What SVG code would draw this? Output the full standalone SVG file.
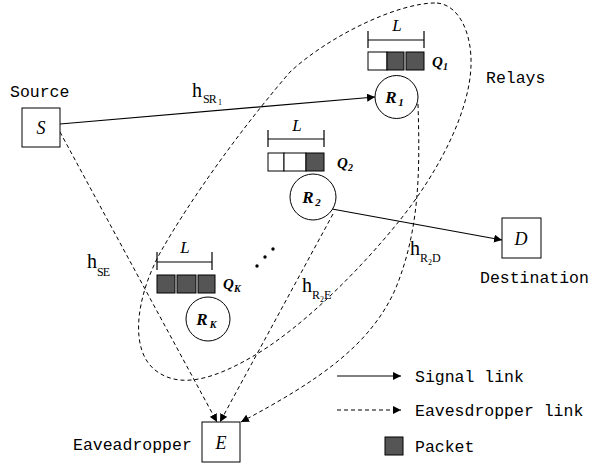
<svg xmlns="http://www.w3.org/2000/svg" width="589" height="463" viewBox="0 0 589 463">
<style>
.lbl{font-family:"Liberation Mono","DejaVu Sans Mono",monospace;font-size:16.5px;fill:#000}
.it{font-family:"Liberation Serif","Times New Roman",serif;font-style:italic;fill:#000}
.bi{font-family:"Liberation Serif","Times New Roman",serif;font-style:italic;font-weight:bold;fill:#000}
.h{font-family:"Liberation Serif","Times New Roman",serif;fill:#000}
.box{fill:#fff;stroke:#000;stroke-width:1}
.sol{fill:none;stroke:#000;stroke-width:1.2}
.dsh{fill:none;stroke:#000;stroke-width:1;stroke-dasharray:4 3}
.pk{fill:#555;stroke:#000;stroke-width:1}
.em{fill:#fff;stroke:#000;stroke-width:1}
</style>
<defs>
<marker id="ah" viewBox="0 0 10 10" refX="10" refY="5" markerWidth="8" markerHeight="8" markerUnits="userSpaceOnUse" orient="auto">
<path d="M0,0 L10,5 L0,10 z" fill="#000"/>
</marker>
</defs>
<rect width="589" height="463" fill="#fff"/>

<g id="relay-region">
<path d="M437,3 C460,5 472,35 471,65 C470,110 440,170 400,220 C360,270 300,330 250,358 C215,378 180,390 155,370 C130,350 135,300 160,253 C190,200 240,130 290,72 C330,35 400,2 437,3 Z" class="dsh"/>
<text x="486" y="83" class="lbl">Relays</text>
</g>

<g id="connectors">
<line x1="60" y1="124" x2="375" y2="97" class="sol" marker-end="url(#ah)"/>
<line x1="332" y1="209" x2="502" y2="240" class="sol" marker-end="url(#ah)"/>
<line x1="60" y1="132" x2="217" y2="422" class="dsh" marker-end="url(#ah)"/>
<line x1="333" y1="214" x2="220" y2="422" class="dsh" marker-end="url(#ah)"/>
<path d="M418,104 C420,170 420,230 395,290 C370,345 320,380 241,422" class="dsh" marker-end="url(#ah)"/>
<text x="192" y="97" class="h" font-size="20">h</text>
<text x="203" y="103" class="h" font-size="12" letter-spacing="-1">SR</text>
<text x="218" y="105" class="h" font-size="8">1</text>
<text x="87" y="268" class="h" font-size="20">h</text>
<text x="97" y="276" class="h" font-size="12" letter-spacing="-1">SE</text>
<text x="302" y="292" class="h" font-size="20">h</text>
<text x="312" y="299" class="h" font-size="12">R</text>
<text x="320" y="302" class="h" font-size="8">2</text>
<text x="324" y="299" class="h" font-size="12">E</text>
<text x="410" y="255" class="h" font-size="20">h</text>
<text x="420" y="262" class="h" font-size="12">R</text>
<text x="428" y="265" class="h" font-size="8">2</text>
<text x="432" y="262" class="h" font-size="12">D</text>
</g>

<g id="S">
<rect x="22" y="108" width="38" height="39" class="box"/>
<text x="41" y="134" class="it" font-size="18" text-anchor="middle">S</text>
<text x="10" y="97" class="lbl">Source</text>
</g>

<g id="D">
<rect x="502" y="218" width="39" height="40" class="box"/>
<text x="521" y="245" class="it" font-size="18" text-anchor="middle">D</text>
<text x="480" y="283" class="lbl">Destination</text>
</g>

<g id="E">
<rect x="202" y="422" width="38" height="40" class="box"/>
<text x="221" y="449" class="it" font-size="18" text-anchor="middle">E</text>
<text x="73" y="450" class="lbl">Eaveadropper</text>
</g>

<g id="R1">
<circle cx="396.5" cy="97" r="21.5" class="box"/>
<text x="391" y="103" class="bi" font-size="17" text-anchor="middle">R</text>
<text x="401" y="106" class="bi" font-size="11" text-anchor="middle">1</text>
<path d="M368,40 H424 M368,31 V48 M424,31 V48" class="sol" stroke-width="1"/>
<text x="397" y="31" class="it" font-size="17" text-anchor="middle">L</text>
<rect x="368" y="52" width="19" height="18" class="em"/>
<rect x="387" y="52" width="17" height="18" class="pk"/>
<rect x="406" y="52" width="18" height="18" class="pk"/>
<text x="432" y="67" class="bi" font-size="15">Q</text>
<text x="443" y="70" class="bi" font-size="10">1</text>
</g>

<g id="R2">
<circle cx="313" cy="197" r="23" class="box"/>
<text x="308" y="203" class="bi" font-size="17" text-anchor="middle">R</text>
<text x="318" y="206" class="bi" font-size="11" text-anchor="middle">2</text>
<path d="M268,139 H324 M268,130 V147 M324,130 V147" class="sol" stroke-width="1"/>
<text x="297" y="131" class="it" font-size="17" text-anchor="middle">L</text>
<rect x="268" y="153" width="16" height="18" class="em"/>
<rect x="284" y="153" width="22" height="18" class="em"/>
<rect x="306" y="153" width="18" height="18" class="pk"/>
<text x="337" y="168" class="bi" font-size="15">Q</text>
<text x="348" y="171" class="bi" font-size="10">2</text>
</g>

<g id="RK">
<circle cx="208" cy="319" r="22" class="box"/>
<text x="202" y="325" class="bi" font-size="17" text-anchor="middle">R</text>
<text x="213" y="328" class="bi" font-size="10" text-anchor="middle">K</text>
<path d="M157,262 H212 M157,252 V270 M212,252 V270" class="sol" stroke-width="1"/>
<text x="185" y="253" class="it" font-size="17" text-anchor="middle">L</text>
<rect x="157" y="275" width="18" height="18" class="pk"/>
<rect x="177" y="275" width="19" height="18" class="pk"/>
<rect x="198" y="275" width="17" height="18" class="pk"/>
<text x="223" y="289" class="bi" font-size="15">Q</text>
<text x="234" y="292" class="bi" font-size="10">K</text>
</g>

<g id="dots" fill="#000">
<circle cx="257" cy="266" r="1.7"/>
<circle cx="265" cy="257" r="1.7"/>
<circle cx="273" cy="249" r="1.7"/>
</g>

<g id="legend">
<line x1="337" y1="376" x2="401" y2="376" class="sol" marker-end="url(#ah)"/>
<text x="415" y="382" class="lbl">Signal link</text>
<line x1="337" y1="410" x2="401" y2="410" class="dsh" marker-end="url(#ah)"/>
<text x="415" y="416" class="lbl">Eavesdropper link</text>
<rect x="385" y="437" width="18" height="18" class="pk"/>
<text x="415" y="452" class="lbl">Packet</text>
</g>
</svg>
